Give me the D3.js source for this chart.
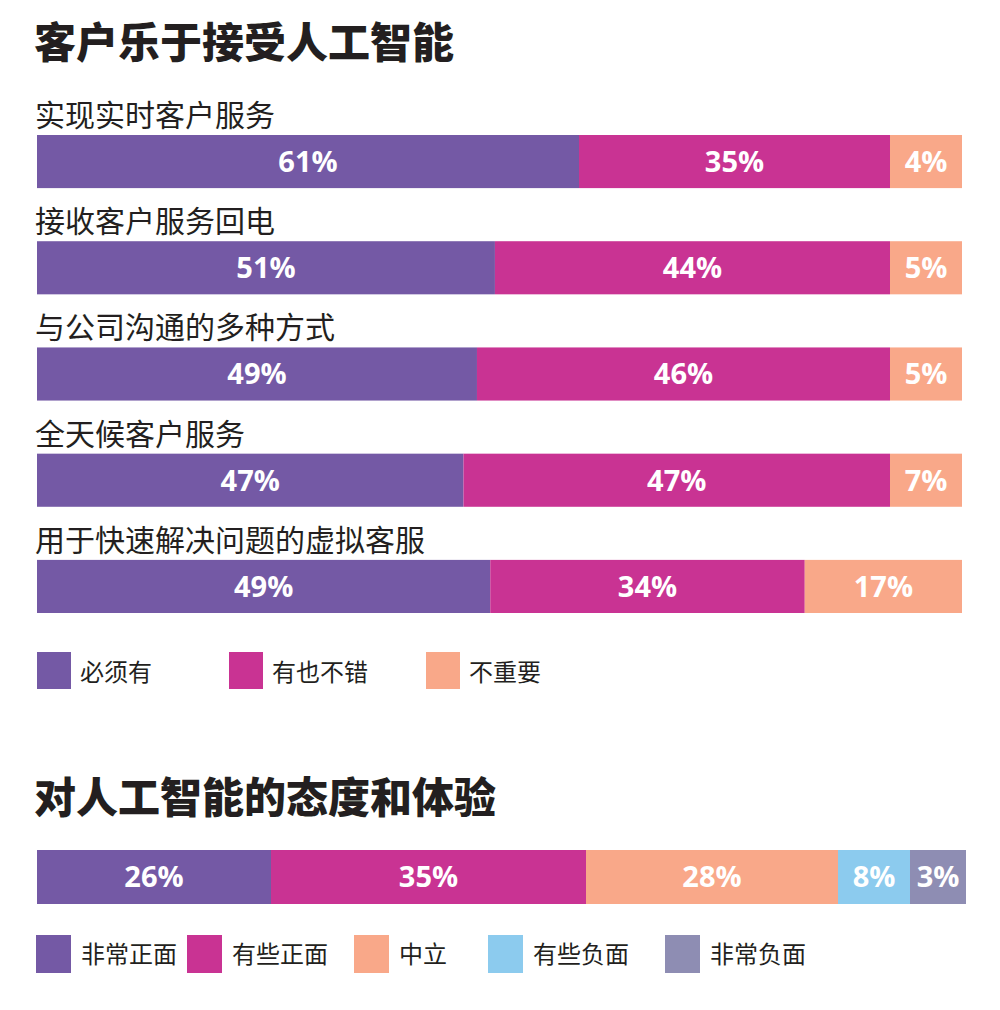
<!DOCTYPE html>
<html>
<head>
<meta charset="utf-8">
<script src="https://cdn.jsdelivr.net/npm/d3@7"></script>
<style>
  body { margin: 0; background: #fff; }
  svg text { font-family: "Noto Sans CJK SC", "Noto Sans", sans-serif; }
</style>
</head>
<body>
<svg width="1000" height="1010"></svg>
<script>
// chart 1 data
const features = ["实现实时客户服务", "接收客户服务回电", "与公司沟通的多种方式", "全天候客户服务", "用于快速解决问题的虚拟客服"];
const mustHave = [61, 51, 49, 47, 49];
const niceToHave = [35, 44, 46, 47, 34];
const notImportant = [4, 5, 5, 7, 17];
const importanceKeys = ["必须有", "有也不错", "不重要"];

// chart 2 data
const attitudeKeys = ["非常正面", "有些正面", "中立", "有些负面", "非常负面"];
const attitudeValues = [26, 35, 28, 8, 3];

const colors1 = ["#7459a5", "#c93393", "#f9a889"];
const colors2 = ["#7459a5", "#c93393", "#f9a889", "#8ccbee", "#8e8db3"];
const ink = "#231f20";

const svg = d3.select("svg");

// stack values along a linear scale, but keep tiny segments wide enough for their label
function segments(vals, range, minW) {
  const sc = d3.scaleLinear().domain([0, d3.sum(vals)]).range(range);
  const full = range[1] - range[0];
  let w = vals.map(v => sc(v) - sc(0));
  const small = w.map(x => x < minW);
  const fixed = d3.sum(w.filter((x, i) => small[i]).map(() => minW));
  const rest = d3.sum(w.filter((x, i) => !small[i]));
  w = w.map((x, i) => small[i] ? minW : x * (full - fixed) / rest);
  let acc = range[0];
  return vals.map((v, k) => { const s = { v, k, x0: acc, x1: acc + w[k] }; acc += w[k]; return s; });
}

// ---- chart 1 ----
svg.append("text")
  .attr("x", 34).attr("y", 58)
  .attr("font-size", 42).attr("font-weight", 900).attr("fill", ink)
  .text("客户乐于接受人工智能");

const rows = features.map((f, i) => ({
  name: f,
  vals: [mustHave[i], niceToHave[i], notImportant[i]]
}));

const y = d3.scaleBand().domain(features).range([135, 613]).paddingInner(0.5).paddingOuter(0);

const row = svg.selectAll("g.row")
  .data(rows)
  .join("g")
  .attr("class", "row");

row.append("text")
  .attr("x", 35)
  .attr("y", d => y(d.name) - 9)
  .attr("font-size", 30).attr("fill", ink)
  .text(d => d.name);

row.each(function(d) {
  const segs = segments(d.vals, [37, 962], 72);
  const g = d3.select(this);
  g.selectAll("rect")
    .data(segs)
    .join("rect")
    .attr("x", s => s.x0)
    .attr("width", s => s.x1 - s.x0)
    .attr("y", y(d.name))
    .attr("height", y.bandwidth())
    .attr("fill", s => colors1[s.k]);
  g.selectAll("text.pct")
    .data(segs)
    .join("text")
    .attr("class", "pct")
    .attr("x", s => (s.x0 + s.x1) / 2)
    .attr("y", y(d.name) + y.bandwidth() / 2)
    .attr("dy", "0.36em")
    .attr("text-anchor", "middle")
    .attr("font-size", 29).attr("font-weight", 700).attr("fill", "#fff")
    .style("font-family", "'Open Sans', sans-serif")
    .text(s => s.v + "%");
});

// legend 1
const legX1 = [37, 229, 426];
const leg1 = svg.selectAll("g.leg1")
  .data(importanceKeys)
  .join("g")
  .attr("class", "leg1")
  .attr("transform", (d, i) => `translate(${legX1[i]},652)`);
leg1.append("rect").attr("width", 34).attr("height", 37).attr("fill", (d, i) => colors1[i]);
leg1.append("text").attr("x", 43).attr("y", 29)
  .attr("font-size", 24).attr("fill", ink).text(d => d);

// ---- chart 2 ----
svg.append("text")
  .attr("x", 34).attr("y", 813)
  .attr("font-size", 42).attr("font-weight", 900).attr("fill", ink)
  .text("对人工智能的态度和体验");

const segs2 = segments(attitudeValues, [37, 966], 56);

svg.selectAll("rect.att")
  .data(segs2)
  .join("rect")
  .attr("class", "att")
  .attr("x", s => s.x0)
  .attr("width", s => s.x1 - s.x0)
  .attr("y", 850)
  .attr("height", 54)
  .attr("fill", s => colors2[s.k]);

svg.selectAll("text.att")
  .data(segs2)
  .join("text")
  .attr("class", "att")
  .attr("x", s => (s.x0 + s.x1) / 2)
  .attr("y", 877)
  .attr("dy", "0.36em")
  .attr("text-anchor", "middle")
  .attr("font-size", 29).attr("font-weight", 700).attr("fill", "#fff")
  .style("font-family", "'Open Sans', sans-serif")
  .text(s => s.v + "%");

// legend 2
const legX2 = [36, 187, 354, 488, 665];
const leg2 = svg.selectAll("g.leg2")
  .data(attitudeKeys)
  .join("g")
  .attr("class", "leg2")
  .attr("transform", (d, i) => `translate(${legX2[i]},935)`);
leg2.append("rect").attr("width", 35).attr("height", 38).attr("fill", (d, i) => colors2[i]);
leg2.append("text").attr("x", 45).attr("y", 28)
  .attr("font-size", 24).attr("fill", ink).text(d => d);
</script>
</body>
</html>
